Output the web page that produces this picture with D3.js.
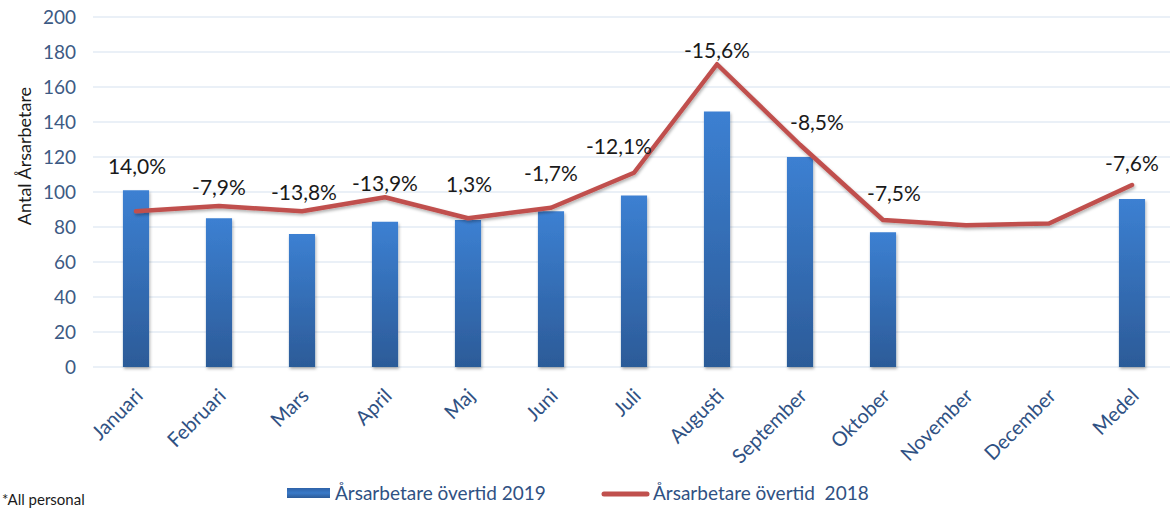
<!DOCTYPE html>
<html>
<head>
<meta charset="utf-8">
<script src="https://cdn.jsdelivr.net/npm/d3@7"></script>
<style>
  html, body { margin: 0; padding: 0; background: #fff; }
  svg { display: block; font-family: Lato, "Open Sans", sans-serif; }
</style>
</head>
<body>
<svg id="chart" width="1170" height="510"></svg>
<script>
// ---- data ----
const categories = ["Januari","Februari","Mars","April","Maj","Juni","Juli","Augusti","September","Oktober","November","December","Medel"];
const bars2019 = [101, 85, 76, 83, 84, 89, 98, 146, 120, 77, null, null, 96];
const line2018 = [89, 92, 89, 97, 85, 91, 111, 173, 127, 84, 81, 82, 104];
const changeLabels = ["14,0%","-7,9%","-13,8%","-13,9%","1,3%","-1,7%","-12,1%","-15,6%","-8,5%","-7,5%",null,null,"-7,6%"];
const yTicks = [0, 20, 40, 60, 80, 100, 120, 140, 160, 180, 200];
const seriesNames = ["Årsarbetare övertid 2019", "Årsarbetare övertid  2018"];

// ---- layout (label nudges in px, relative to line point) ----
const labelNudge = [[1,-45],[0,-18],[2,-19],[0,-14],[1,-34],[0,-34],[-15,-26],[0,-14],[17,-22],[11,-26],[0,0],[0,0],[0,-21]];

const svg = d3.select("#chart");
const x0 = 94.5, x1 = 1173.5, yTop = 17, yBot = 367;

const x = d3.scalePoint().domain(categories).range([x0, x1]).padding(0.5);
const step = x.step();
const barW = step * 0.315;
const y = d3.scaleLinear().domain([0, 200]).range([yBot, yTop]);

const defs = svg.append("defs");
const g = defs.append("linearGradient").attr("id","barGrad").attr("x1",0).attr("y1",0).attr("x2",0).attr("y2",1);
g.append("stop").attr("offset","0%").attr("stop-color","#3C80D2");
g.append("stop").attr("offset","100%").attr("stop-color","#2C5B98");
const g2 = defs.append("linearGradient").attr("id","legGrad").attr("x1",0).attr("y1",0).attr("x2",0).attr("y2",1);
g2.append("stop").attr("offset","0%").attr("stop-color","#2E62A8");
g2.append("stop").attr("offset","50%").attr("stop-color","#3A7AC8");
g2.append("stop").attr("offset","100%").attr("stop-color","#2C5B98");
const f = defs.append("filter").attr("id","shadow").attr("x","-10%").attr("y","-10%").attr("width","130%").attr("height","130%");
f.append("feDropShadow").attr("dx",1).attr("dy",2).attr("stdDeviation",1.5).attr("flood-color","#000").attr("flood-opacity",0.3);

// gridlines
svg.append("g").selectAll("line").data(yTicks).join("line")
  .attr("x1", 93).attr("x2", 1170)
  .attr("y1", d => y(d)).attr("y2", d => y(d))
  .attr("stroke", "#D6E1EF").attr("stroke-width", 1.2);

// y axis labels
const yAxis = d3.axisLeft(y).tickValues(yTicks).tickSize(0).tickPadding(0);
const ya = svg.append("g").attr("transform", "translate(76,0)").call(yAxis);
ya.select(".domain").remove();
ya.selectAll("text").attr("font-family","Lato, sans-serif").attr("font-size", 19).attr("fill", "#3D5A84");

// axis title
svg.append("text")
  .attr("transform", "translate(25,156) rotate(-90)")
  .attr("dy", "0.35em")
  .attr("text-anchor","middle")
  .attr("font-size", 18).attr("fill", "#1a1a1a")
  .text("Antal Årsarbetare");

// bars
svg.append("g").selectAll("rect")
  .data(categories.map((c,i)=>({c, v: bars2019[i]})).filter(d => d.v != null))
  .join("rect")
  .attr("x", d => x(d.c) - barW/2)
  .attr("width", barW)
  .attr("y", d => y(d.v))
  .attr("height", d => y(0) - y(d.v))
  .attr("fill", "url(#barGrad)")
  .attr("filter", "url(#shadow)");

// line
const lineGen = d3.line().x((d,i) => x(categories[i])).y(d => y(d));
svg.append("path")
  .datum(line2018)
  .attr("d", lineGen)
  .attr("fill","none")
  .attr("stroke","#C0504D")
  .attr("stroke-width", 4.5)
  .attr("stroke-linejoin","round")
  .attr("stroke-linecap","round")
  .attr("filter","url(#shadow)");

// data labels
svg.append("g").selectAll("text")
  .data(categories.map((c,i)=>({c, i, t: changeLabels[i]})).filter(d => d.t != null))
  .join("text")
  .attr("x", d => x(d.c) + labelNudge[d.i][0])
  .attr("y", d => y(line2018[d.i]) + labelNudge[d.i][1])
  .attr("dy", "0.35em")
  .attr("text-anchor","middle")
  .attr("font-size", 21).attr("fill", "#1a1a1a")
  .text(d => d.t);

// x axis labels
svg.append("g").selectAll("text").data(categories).join("text")
  .attr("transform", d => `translate(${x(d) - 2},${387}) rotate(-45)`)
  .attr("text-anchor","end")
  .attr("dy","0.72em")
  .attr("font-size", 20).attr("fill", "#2F5183")
  .text(d => d);

// legend
const leg = svg.append("g");
leg.append("rect").attr("x", 287).attr("y", 488).attr("width", 43).attr("height", 10).attr("fill","url(#legGrad)");
leg.append("text").attr("x", 335).attr("y", 493).attr("dy","0.35em")
  .attr("font-size", 19).attr("fill","#2F5183").text(seriesNames[0]);
leg.append("line").attr("x1", 604).attr("x2", 647).attr("y1", 494).attr("y2", 494)
  .attr("stroke","#C0504D").attr("stroke-width",5).attr("stroke-linecap","round");
leg.append("text").attr("x", 653).attr("y", 493).attr("dy","0.35em")
  .attr("font-size", 19).attr("fill","#2F5183").attr("xml:space","preserve").text(seriesNames[1]);

// footnote
svg.append("text").attr("x", 2).attr("y", 505)
  .attr("font-size", 15).attr("fill","#1a1a1a").text("*All personal");
</script>
</body>
</html>
